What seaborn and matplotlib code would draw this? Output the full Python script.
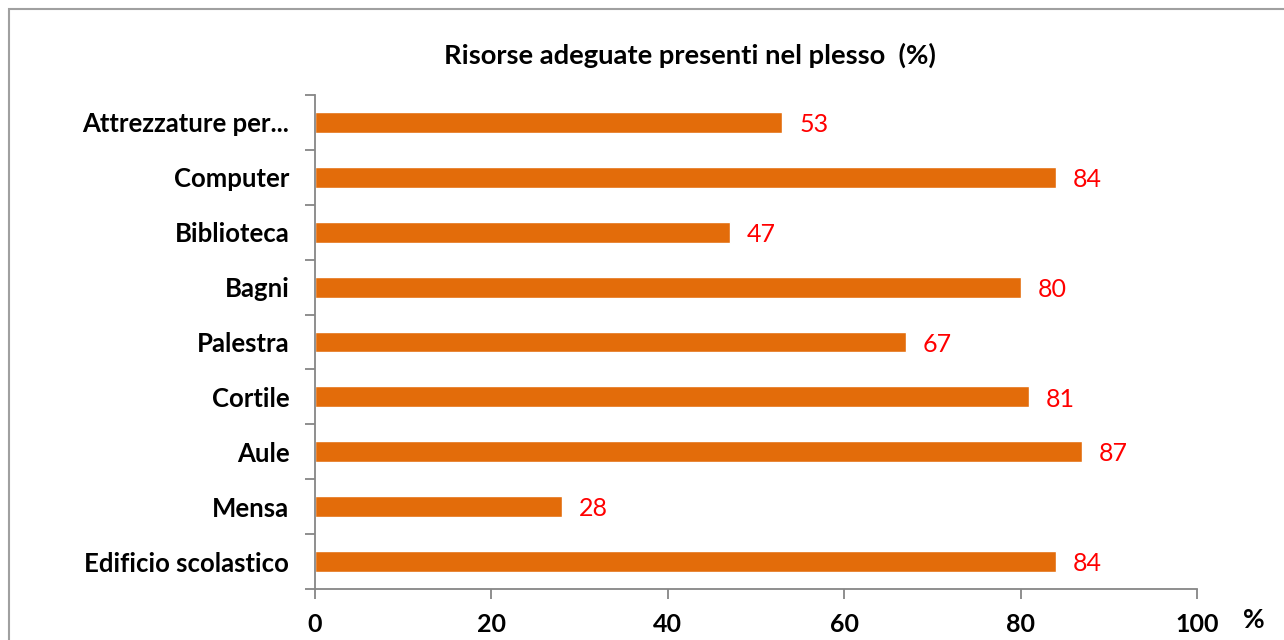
import matplotlib
matplotlib.use("Agg")
import matplotlib.pyplot as plt
import seaborn as sns
import pandas as pd
import numpy as np
from matplotlib.patches import Rectangle

# data, top to bottom as in the chart
categories = ["Attrezzature per...", "Computer", "Biblioteca", "Bagni", "Palestra",
              "Cortile", "Aule", "Mensa", "Edificio scolastico"]
values = [53, 84, 47, 80, 67, 81, 87, 28, 84]
x_ticks = [0, 20, 40, 60, 80, 100]

title = "Risorse adeguate presenti nel plesso  (%)"
bar_color = "#E36C0A"
axis_gray = "#868686"

sns.set_theme(style="white")
plt.rcParams["font.family"] = ["Lato", "DejaVu Sans"]
plt.rcParams["text.color"] = "black"
plt.rcParams["xtick.color"] = "black"
plt.rcParams["ytick.color"] = "black"

df = pd.DataFrame({"categoria": categories, "valore": values})

fig = plt.figure(figsize=(12.84, 6.4), dpi=100)
ax = fig.add_axes([315 / 1284, 51 / 640, 882 / 1284, 494 / 640])

sns.barplot(data=df, x="valore", y="categoria", orient="h", color=bar_color,
            saturation=1, width=0.38, ax=ax)

# value labels
for i, v in enumerate(values):
    ax.text(v + 1.9, i + 0.04, str(v), color="#FF0000", fontsize=18, va="center", ha="left")

ax.set_xlim(0, 100)
ax.set_ylim(len(categories) - 0.5, -0.5)
ax.set_xticks(x_ticks)
ax.set_xticklabels([str(t) for t in x_ticks], fontsize=18, fontweight="bold")
ax.set_yticks(range(len(categories)))
ax.set_yticklabels(categories, fontsize=18.5, fontweight="bold")
ax.set_yticks(np.arange(-0.5, len(categories)), minor=True)
ax.tick_params(axis="y", which="major", length=0, pad=18.5)
ax.tick_params(axis="y", which="minor", length=7, width=1.3, color=axis_gray, direction="out", left=True)
ax.tick_params(axis="x", length=7, width=1.3, color=axis_gray, labelcolor="black",
               direction="out", bottom=True, pad=10.5)
ax.set_xlabel("")
ax.set_ylabel("")

for side in ["top", "right"]:
    ax.spines[side].set_visible(False)
for side in ["left", "bottom"]:
    ax.spines[side].set_color(axis_gray)
    ax.spines[side].set_linewidth(1.3)

fig.text(690 / 1284, 1 - 55 / 640, title, ha="center", va="center",
         fontsize=19.7, fontweight="bold")
fig.text(1254 / 1284, 1 - 620 / 640, "%", ha="center", va="center",
         fontsize=19, fontweight="bold")

# chart border (right and bottom edges fall outside the picture)
fig.patches.append(Rectangle((9 / 1284, -0.1), 1.2, 1 - 9 / 640 + 0.1,
                             transform=fig.transFigure, fill=False,
                             edgecolor="#A0A0A0", linewidth=1.5))

fig.savefig("out.png", dpi=100)
